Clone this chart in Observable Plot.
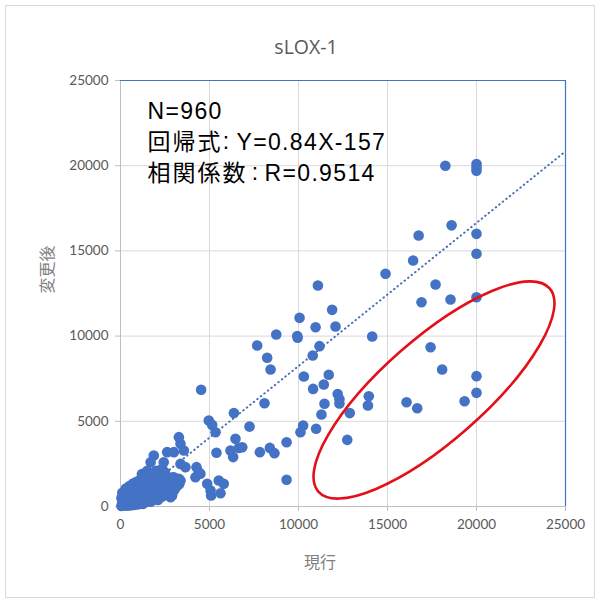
<!DOCTYPE html>
<html>
<head>
<meta charset="utf-8">
<script src="https://cdn.jsdelivr.net/npm/d3@7"></script>
<script src="https://cdn.jsdelivr.net/npm/@observablehq/plot@0.6"></script>
<style>
  body { margin: 0; background: #fff; }
  #wrap { position: relative; width: 598px; height: 601px; }
  #border { position: absolute; left: 5px; top: 5px; width: 588px; height: 591px; border: 1px solid #d9d9d9; pointer-events: none; }
  .annot text { letter-spacing: 1.35px; }
  .annotcjk text { letter-spacing: 2px; }
</style>
</head>
<body>
<div id="wrap"><div id="border"></div></div>
<script>
// ---- text ----
const titleText = "sLOX-1";
const xLabel = "現行";
const yLabel = "変更後";
const annotN = "N=960";
const annotRegLabel = "回帰式";
const annotRegValue = "Y=0.84X-157";
const annotCorLabel = "相関係数";
const annotCorValue = "R=0.9514";
const annotColon = ":";

// ---- ticks ----
const xTicks = [0, 5000, 10000, 15000, 20000, 25000];
const yTicks = [0, 5000, 10000, 15000, 20000, 25000];

// ---- regression (from annotation) ----
const slope = 0.84;
const intercept = -157;
const trendX = [0, 25000];

// ---- data: [現行, 変更後] ----
const upperRight = [
  [18250,20000],[20000,20100],[20000,19900],[20000,19700],
  [18600,16500],[16750,15900],[20000,16000],[20000,14830],[16440,14440],[14890,13660],
  [17700,13030],[16910,11990],[18540,12150],[20000,12280],[17420,9350],[18070,8040],
  [20000,7650],[20000,6670],[19330,6180],[16070,6120],[16670,5770]
];
const middle = [
  [11090,12970],[11890,11540],[10060,11070],[10960,10520],[12080,10560],[9930,10000],[9950,9900],
  [14140,9980],[11180,9410],[10800,8860],[11700,7730],[10300,7630],[11420,7160],[10820,6900],
  [12200,6600],[12300,6300],[12300,6050],[13950,6470],[13900,5930],[11460,6030],[11290,5400],
  [12880,5480],[10260,4750],[10110,4360],[10990,4560],[12740,3910],[9330,3770],
  [8750,10090],[7680,9450],[8240,8730],[8430,8040],[4530,6850],[8090,6060],[6370,5480],
  [4960,5050],[5150,4790],[5340,4360],[7250,4690],[6460,3970],[6840,3480],[6180,3290],
  [6330,2900],[6650,3440],[5390,3150],[7830,3190],[8390,3440],[8650,3130],[4270,2310],
  [4490,1920],[4210,1720],[4870,1330],[5060,940],[5090,650],[5520,1530],[5800,1330],
  [5620,780],[9330,1570],[4400,2010]
];
const lowerLeft = [
  [3280,4070],[3370,3680],[2620,3190],[3000,3190],[3560,3290],[1870,2990],[1690,2600],
  [2430,2600],[3370,2500],[3650,2310],[2340,2210],[3280,1630],[3000,1720],[2900,1130],
  [2340,940],[2430,650],[2810,550],[3370,1530],[3000,940],[2900,650]
];
const blob = [
  [50,30],[150,60],[250,120],[350,40],[450,150],[550,60],[650,200],[750,90],[850,260],[950,120],
  [1100,200],[1250,150],[1400,250],[1550,320],[1700,280],[1900,420],[2100,380],[2300,560],
  [2500,700],[2700,800],[2900,950],[3100,1100],[3300,1300],
  [100,250],[250,350],[400,450],[550,380],[700,520],[850,600],[1000,500],[1150,650],[1300,550],
  [1450,700],[1600,620],[1750,800],[1900,750],[2050,900],[2200,850],[2350,1000],[2550,1100],
  [2750,1200],[2950,1350],[3150,1500],
  [50,500],[200,650],[350,800],[500,700],[650,900],[800,1000],[950,900],[1100,1050],[1250,950],
  [1400,1100],[1550,1050],[1700,1200],[1850,1150],[2000,1300],[2150,1250],[2300,1400],[2500,1500],
  [2700,1600],[2900,1700],
  [100,800],[300,1050],[500,1200],[700,1350],[900,1450],[1100,1550],[1300,1500],[1500,1650],
  [1700,1750],[1900,1650],[2100,1800],[2300,1900],[2500,2000],
  [1200,1900],[1500,2100],[2000,2100]
];

// ---- annotation ellipse (data units) ----
const ellipseCenter = [17640, 6810];
const ellipseSemiAxes = [8650, 2870];
const ellipseAngle = 41.3;

const points = [...upperRight, ...middle, ...lowerLeft, ...blob].map(([x, y]) => ({x, y}));
const trend = trendX.map(x => ({x, y: slope * x + intercept}));

const blue = "#4472c4";
const annFont = "'Liberation Sans', Arial, 'Noto Sans CJK JP', sans-serif";
const annOpts = {frameAnchor: "top-left", textAnchor: "start", lineAnchor: "middle", fontSize: 23, fill: "#000", fontFamily: annFont, className: "annot"};
const cjkOpts = {...annOpts, className: "annotcjk"};

const chart = Plot.plot({
  width: 598,
  height: 601,
  marginLeft: 120,
  marginRight: 33,
  marginTop: 80,
  marginBottom: 95,
  style: {fontFamily: "Lato, 'Noto Sans CJK JP', sans-serif", fontSize: "13px", color: "#595959", background: "transparent"},
  x: {domain: [0, 25000]},
  y: {domain: [0, 25000]},
  marks: [
    Plot.gridX(xTicks, {stroke: "#d9d9d9", strokeOpacity: 1, strokeWidth: 1}),
    Plot.gridY(yTicks, {stroke: "#d9d9d9", strokeOpacity: 1, strokeWidth: 1}),
    Plot.axisX(xTicks, {tickSize: 5, tickPadding: 8, stroke: "#bfbfbf", fill: "#595959", label: null, tickFormat: d => String(d), fontSize: 13.5}),
    Plot.axisY(yTicks, {tickSize: 5, tickPadding: 7, stroke: "#bfbfbf", fill: "#595959", label: null, tickFormat: d => String(d), fontSize: 13.5}),
    Plot.ruleY([0], {stroke: "#bfbfbf"}),
    Plot.ruleX([0], {stroke: "#bfbfbf"}),
    Plot.ruleY([25000], {stroke: blue, strokeWidth: 1.2}),
    Plot.ruleX([25000], {stroke: blue, strokeWidth: 1.2}),
    Plot.line(trend, {x: "x", y: "y", stroke: "#4a6fb5", strokeWidth: 2, strokeDasharray: "0.5 4", strokeLinecap: "round", clip: true}),
    Plot.dot(points, {x: "x", y: "y", r: 5.3, fill: blue, stroke: "none"}),
    Plot.text([titleText], {frameAnchor: "top", dx: -37, dy: -40, fontSize: 19.5, fill: "#595959", fontFamily: "'Open Sans', sans-serif"}),
    Plot.text([annotN], {...annOpts, dx: 27, dy: 31.5}),
    Plot.text([annotRegLabel], {...cjkOpts, dx: 27, dy: 62}),
    Plot.text([annotColon], {...annOpts, textAnchor: "middle", dx: 106, dy: 61}),
    Plot.text([annotRegValue], {...annOpts, dx: 116, dy: 62}),
    Plot.text([annotCorLabel], {...cjkOpts, dx: 27, dy: 93}),
    Plot.text([annotColon], {...annOpts, textAnchor: "middle", dx: 135, dy: 92}),
    Plot.text([annotCorValue], {...annOpts, dx: 144, dy: 93}),
    Plot.text([yLabel], {frameAnchor: "left", dx: -73, rotate: -90, fontSize: 16, fill: "#7f7f7f", fontFamily: "'Noto Sans CJK JP', sans-serif"}),
    Plot.text([xLabel], {frameAnchor: "bottom", dx: -23, dy: 61, fontSize: 16, fill: "#7f7f7f", fontFamily: "'Noto Sans CJK JP', sans-serif"})
  ]
});

// red ellipse annotation positioned through the chart's scales
const sx = chart.scale("x"), sy = chart.scale("y");
const ecx = sx.apply(ellipseCenter[0]);
const ecy = sy.apply(ellipseCenter[1]);
const erx = sx.apply(ellipseSemiAxes[0]) - sx.apply(0);
const ery = sx.apply(ellipseSemiAxes[1]) - sx.apply(0);
d3.select(chart).append("ellipse")
  .attr("cx", ecx).attr("cy", ecy).attr("rx", erx).attr("ry", ery)
  .attr("transform", `rotate(${-ellipseAngle} ${ecx} ${ecy})`)
  .attr("fill", "none").attr("stroke", "#e3101a").attr("stroke-width", 2.6);

document.getElementById("wrap").prepend(chart);
</script>
</body>
</html>
